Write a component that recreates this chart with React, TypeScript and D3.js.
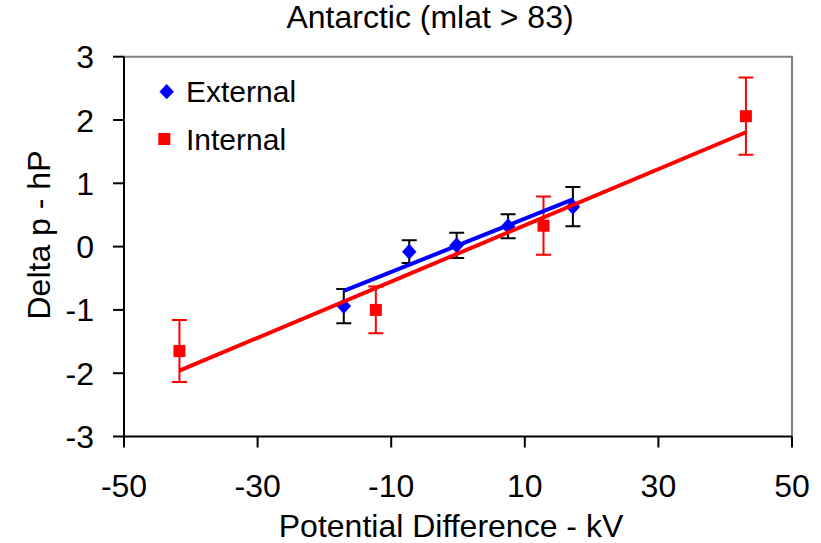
import React, { useRef, useEffect } from 'react';
import { select, scaleLinear, line, symbol, symbolSquare } from 'd3';

const width = 821;
const height = 543;

const xTicks = [-50, -30, -10, 10, 30, 50];
const yTicks = [-3, -2, -1, 0, 1, 2, 3];

// External: x, mean, error
const externalX = [-17.1, -7.3, -0.2, 7.5, 17.2];
const externalY = [-0.94, -0.08, 0.02, 0.32, 0.63];
const externalErr = [0.27, 0.18, 0.2, 0.19, 0.31];

// Internal
const internalX = [-41.7, -12.3, 12.8, 43.1];
const internalY = [-1.65, -1.0, 0.33, 2.06];
const internalErr = [0.49, 0.37, 0.46, 0.61];

// linear trend lines (end points)
const externalTrend = [[-17.1, -0.7], [17.3, 0.75]];
const internalTrend = [[-41.7, -1.96], [43.2, 1.81]];

export default function App() {
    const svgRef = useRef<SVGSVGElement>(null);

    useEffect(() => {
        const svg = select(svgRef.current);
        svg.selectAll('*').remove();

        const x = scaleLinear().domain([-50, 50]).range([124, 792]);
        const y = scaleLinear().domain([-3, 3]).range([436.5, 56.7]);
        const font = '"Liberation Sans", Arial, sans-serif';

        svg.append('rect').attr('width', width).attr('height', height).attr('fill', '#fff');

        // plot frame: gray top/right, black axes
        svg.append('path')
            .attr('d', `M${x(-50)},${y(3)}H${x(50)}V${y(-3)}`)
            .attr('fill', 'none')
            .attr('stroke', '#808080')
            .attr('stroke-width', 2);

        svg.append('line')
            .attr('x1', x(-50)).attr('x2', x(-50))
            .attr('y1', y(3)).attr('y2', y(-3))
            .attr('stroke', '#000').attr('stroke-width', 2);
        svg.append('line')
            .attr('x1', x(-50)).attr('x2', x(50))
            .attr('y1', y(-3)).attr('y2', y(-3))
            .attr('stroke', '#000').attr('stroke-width', 2);

        // y ticks
        svg.selectAll('.ytick')
            .data(yTicks)
            .enter().append('line')
            .attr('x1', x(-50) - 11).attr('x2', x(-50))
            .attr('y1', d => y(d)).attr('y2', d => y(d))
            .attr('stroke', '#000').attr('stroke-width', 2);
        svg.selectAll('.ylabel')
            .data(yTicks)
            .enter().append('text')
            .attr('x', 94)
            .attr('y', d => y(d) + 11.5)
            .attr('text-anchor', 'end')
            .style('font-family', font)
            .style('font-size', '32px')
            .text(d => d);

        // x ticks
        svg.selectAll('.xtick')
            .data(xTicks)
            .enter().append('line')
            .attr('x1', d => x(d)).attr('x2', d => x(d))
            .attr('y1', y(-3)).attr('y2', y(-3) + 11)
            .attr('stroke', '#000').attr('stroke-width', 2);
        svg.selectAll('.xlabel')
            .data(xTicks)
            .enter().append('text')
            .attr('x', d => x(d))
            .attr('y', 496.5)
            .attr('text-anchor', 'middle')
            .style('font-family', font)
            .style('font-size', '32px')
            .text(d => d);

        // titles
        svg.append('text')
            .attr('x', 430).attr('y', 28)
            .attr('text-anchor', 'middle')
            .style('font-family', font).style('font-size', '32px')
            .text('Antarctic (mlat > 83)');
        svg.append('text')
            .attr('x', 451).attr('y', 537)
            .attr('text-anchor', 'middle')
            .style('font-family', font).style('font-size', '32px')
            .text('Potential Difference - kV');
        svg.append('text')
            .attr('transform', 'translate(50,235) rotate(-90)')
            .attr('text-anchor', 'middle')
            .style('font-family', font).style('font-size', '32px')
            .text('Delta p - hP');

        // error bars
        const errBars = (xs, ys, es, color) => {
            const g = svg.append('g').attr('stroke', color).attr('stroke-width', 2).attr('fill', 'none');
            xs.forEach((xv, i) => {
                const cx = x(xv);
                const top = y(ys[i] + es[i]);
                const bot = y(ys[i] - es[i]);
                g.append('path')
                    .attr('d', `M${cx},${top}V${bot}M${cx - 7.5},${top}H${cx + 7.5}M${cx - 7.5},${bot}H${cx + 7.5}`);
            });
        };
        errBars(externalX, externalY, externalErr, '#000');
        errBars(internalX, internalY, internalErr, '#ff0000');

        // markers: diamond = rotated square
        const diamond = symbol().type(symbolSquare).size(105);
        svg.selectAll('.ext')
            .data(externalX)
            .enter().append('path')
            .attr('d', diamond)
            .attr('transform', (d, i) => `translate(${x(d)},${y(externalY[i])}) scale(1,1.1) rotate(45)`)
            .attr('fill', '#0000ff');
        svg.selectAll('.int')
            .data(internalX)
            .enter().append('rect')
            .attr('x', d => x(d) - 6)
            .attr('y', (d, i) => y(internalY[i]) - 6)
            .attr('width', 12).attr('height', 12)
            .attr('fill', '#ff0000');

        // trend lines
        const trend = line().x(d => x(d[0])).y(d => y(d[1]));
        svg.append('path')
            .datum(externalTrend)
            .attr('d', trend)
            .attr('stroke', '#0000ff').attr('stroke-width', 4).attr('fill', 'none');
        svg.append('path')
            .datum(internalTrend)
            .attr('d', trend)
            .attr('stroke', '#ff0000').attr('stroke-width', 4).attr('fill', 'none');

        // legend
        svg.append('path')
            .attr('d', diamond)
            .attr('transform', `translate(166.7,91.7) scale(1,1.05) rotate(45)`)
            .attr('fill', '#0000ff');
        svg.append('rect')
            .attr('x', 158.3).attr('y', 133).attr('width', 12).attr('height', 12)
            .attr('fill', '#ff0000');
        svg.append('text')
            .attr('x', 186).attr('y', 101.7)
            .style('font-family', font).style('font-size', '30px')
            .text('External');
        svg.append('text')
            .attr('x', 186).attr('y', 150)
            .style('font-family', font).style('font-size', '30px')
            .text('Internal');
    }, []);

    return (
        <div style={{ position: 'absolute', left: 0, top: 0 }}>
            <svg width={width} height={height} ref={svgRef} style={{ display: 'block' }}></svg>
        </div>
    );
}
